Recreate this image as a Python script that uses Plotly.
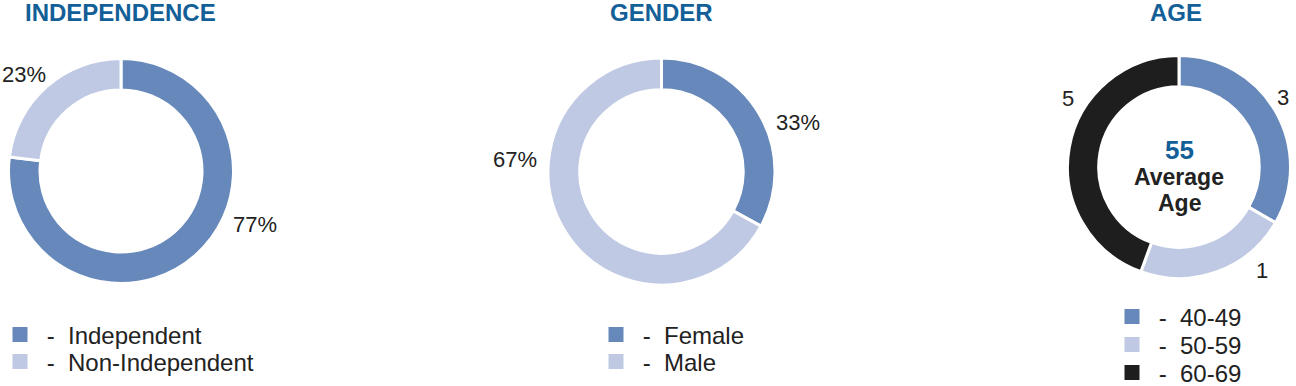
import plotly.graph_objects as go

W, H = 1296, 386

# ---- data ----
indep_labels = ["Independent", "Non-Independent"]
indep_values = [77, 23]
indep_text = ["77%", "23%"]

gender_labels = ["Female", "Male"]
gender_values = [33, 67]
gender_text = ["33%", "67%"]

age_labels = ["40-49", "50-59", "60-69"]
age_values = [3, 2, 4]          # slice sizes as drawn
age_text = ["3", "1", "5"]      # printed labels
avg_age = 55

titles = ["INDEPENDENCE", "GENDER", "AGE"]

BLUE = "#6688ba"
LIGHT = "#bfc9e3"
DARK = "#1e1e1e"
TITLE = "#135f98"
TXT = "#222222"
FONT = "Liberation Sans, Arial, Helvetica, sans-serif"


def px(x):
    return x / W


def py(y):
    return 1 - y / H


def dom(cx, cy, r):
    return dict(x=[px(cx - r), px(cx + r)], y=[py(cy + r), py(cy - r)])


fig = go.Figure()

pies = [
    (indep_labels, indep_values, [BLUE, LIGHT], (121, 171, 112.5)),
    (gender_labels, gender_values, [BLUE, LIGHT], (661.5, 171.5, 113.5)),
    (age_labels, age_values, [BLUE, LIGHT, DARK], (1179, 167, 111.5)),
]
for labels, values, colors, (cx, cy, r) in pies:
    fig.add_trace(go.Pie(
        labels=labels, values=values, sort=False, direction="clockwise",
        rotation=0, hole=0.72, textinfo="none", hoverinfo="label+value",
        marker=dict(colors=colors, line=dict(color="white", width=3)),
        domain=dom(cx, cy, r), showlegend=False,
    ))

# legend proxies: one legend per row so rows can be placed exactly
legend_sets = [
    (indep_labels, [BLUE, LIGHT], 0, [335, 362]),
    (gender_labels, [BLUE, LIGHT], 596, [335, 362]),
    (age_labels, [BLUE, LIGHT, DARK], 1112, [317, 345, 373]),
]
legend_layouts = {}
k = 0
for labels, colors, x0, rows in legend_sets:
    for lab, col, yc in zip(labels, colors, rows):
        k += 1
        lname = "legend" if k == 1 else f"legend{k}"
        fig.add_trace(go.Scatter(
            x=[None], y=[None], mode="markers", name="\u00a0-\u00a0\u00a0" + lab,
            marker=dict(symbol="square", size=15, color=col),
            legend=lname, showlegend=True, hoverinfo="skip",
        ))
        legend_layouts[lname] = dict(
            x=px(x0), y=py(yc), xanchor="left", yanchor="middle",
            bgcolor="rgba(0,0,0,0)", borderwidth=0,
            font=dict(family=FONT, size=24, color=TXT),
            itemclick=False, itemdoubleclick=False)

annotations = []
# titles
for t, (cx, cy) in zip(titles, [(120, 12), (661, 12), (1176, 12)]):
    annotations.append(dict(x=px(cx), y=py(cy), text="<b>" + t + "</b>", showarrow=False,
                            xref="paper", yref="paper", xanchor="center", yanchor="middle",
                            font=dict(family=FONT, size=24, color=TITLE)))

# slice labels
label_pos = [
    (indep_text, [(255, 225), (24, 74)]),
    (gender_text, [(798, 122), (515, 160)]),
    (age_text, [(1283, 97), (1262, 270), (1068, 98)]),
]
for texts, poss in label_pos:
    for t, (x, y) in zip(texts, poss):
        annotations.append(dict(x=px(x), y=py(y), text=t, showarrow=False,
                                xref="paper", yref="paper", xanchor="center", yanchor="middle",
                                font=dict(family=FONT, size=22, color=TXT)))

# center text
center_lines = [
    (f"<b>{avg_age}</b>", TITLE, 26, 150),
    ("<b>Average</b>", TXT, 23, 177),
    ("<b>Age</b>", TXT, 23, 203),
]
for t, col, fs, yc in center_lines:
    annotations.append(dict(x=px(1179), y=py(yc), xref="paper", yref="paper", showarrow=False,
                            xanchor="center", yanchor="middle", text=t,
                            font=dict(family=FONT, size=fs, color=col)))

fig.update_layout(
    width=W, height=H, margin=dict(l=0, r=0, t=0, b=0, autoexpand=False),
    paper_bgcolor="white", plot_bgcolor="white",
    xaxis=dict(visible=False), yaxis=dict(visible=False),
    annotations=annotations,
    **legend_layouts,
)

fig.write_html("out.html", config={"displayModeBar": False},
               post_script="document.body.style.margin='0px';document.body.style.padding='0px';")
